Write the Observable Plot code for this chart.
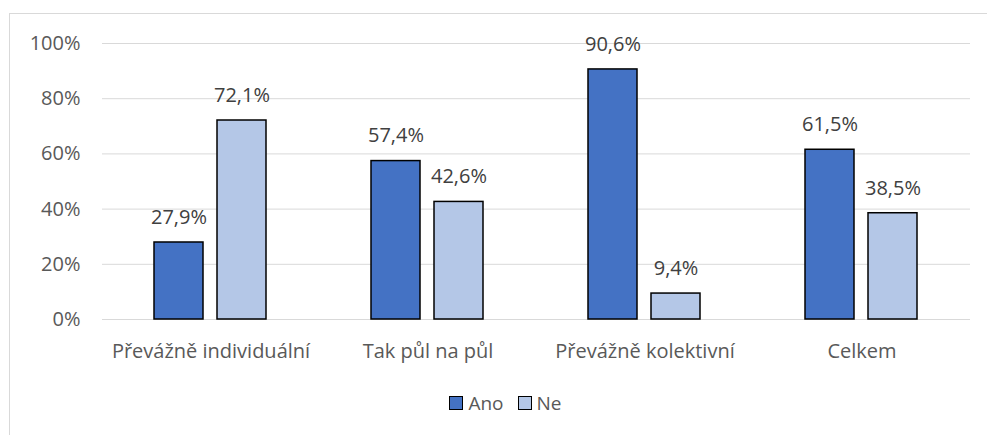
<!DOCTYPE html>
<html><head><meta charset="utf-8">
<script src="https://cdn.jsdelivr.net/npm/d3@7"></script>
<script src="https://cdn.jsdelivr.net/npm/@observablehq/plot@0.6"></script>
<style>
html,body{margin:0;padding:0;background:#fff;overflow:hidden;}
#frame{position:absolute;left:9px;top:13px;width:1000px;height:440px;border:1px solid #d9d9d9;box-sizing:border-box;}
#chart{position:absolute;left:0;top:0;}
#legend{position:absolute;left:0;top:390px;width:987px;display:flex;justify-content:center;gap:14px;font-family:"Open Sans",sans-serif;font-size:19px;color:#595959;padding-left:24px;box-sizing:border-box;}
.item{display:flex;align-items:center;gap:5px;}
.sw{width:14px;height:14px;border:1.5px solid #000;box-sizing:border-box;display:inline-block;}
</style></head>
<body>
<div id="frame"></div>
<div id="chart"></div>
<div id="legend"></div>
<script>
const categories = ["Převážně individuální", "Tak půl na půl", "Převážně kolektivní", "Celkem"];
const series = ["Ano", "Ne"];
const ano = [27.9, 57.4, 90.6, 61.5];
const ne = [72.1, 42.6, 9.4, 38.5];
const yTicks = [0, 20, 40, 60, 80, 100];
const colors = ["#4472C4", "#B4C7E7"];

const data = [];
categories.forEach((c, i) => {
  data.push({cat: c, s: "Ano", v: ano[i]});
  data.push({cat: c, s: "Ne", v: ne[i]});
});
const fmt = v => v.toFixed(1).replace(".", ",") + "%";
const font = "'Open Sans', sans-serif";

const chart = Plot.plot({
  width: 987, height: 380,
  marginTop: 43, marginBottom: 61, marginLeft: 102, marginRight: 17,
  style: {fontFamily: font, background: "transparent"},
  fx: {domain: categories, padding: 0, label: null},
  x: {domain: series, paddingInner: 0.222, paddingOuter: 0.833, axis: null},
  y: {domain: [0, 100], label: null},
  color: {domain: series, range: colors},
  marks: [
    Plot.gridY(yTicks, {stroke: "#d9d9d9", strokeOpacity: 1, strokeWidth: 1}),
    Plot.axisY(yTicks, {tickSize: 0, tickPadding: 22, tickFormat: d => d + "%", fontSize: 20, fill: "#595959", label: null}),
    Plot.axisFx({anchor: "bottom", tickSize: 0, tickPadding: 24, fontSize: 20, fill: "#595959", label: null}),
    Plot.barY(data, {fx: "cat", x: "s", y: "v", fill: "s", stroke: "#000", strokeWidth: 1.5}),
    Plot.text(data, {fx: "cat", x: "s", y: "v", text: d => fmt(d.v), dy: -25, fontSize: 20, fill: "#404040"})
  ]
});
document.getElementById("chart").appendChild(chart);

const leg = document.getElementById("legend");
series.forEach((s, i) => {
  const it = document.createElement("div");
  it.className = "item";
  it.innerHTML = `<span class="sw" style="background:${colors[i]}"></span><span>${s}</span>`;
  leg.appendChild(it);
});
</script>
</body></html>
